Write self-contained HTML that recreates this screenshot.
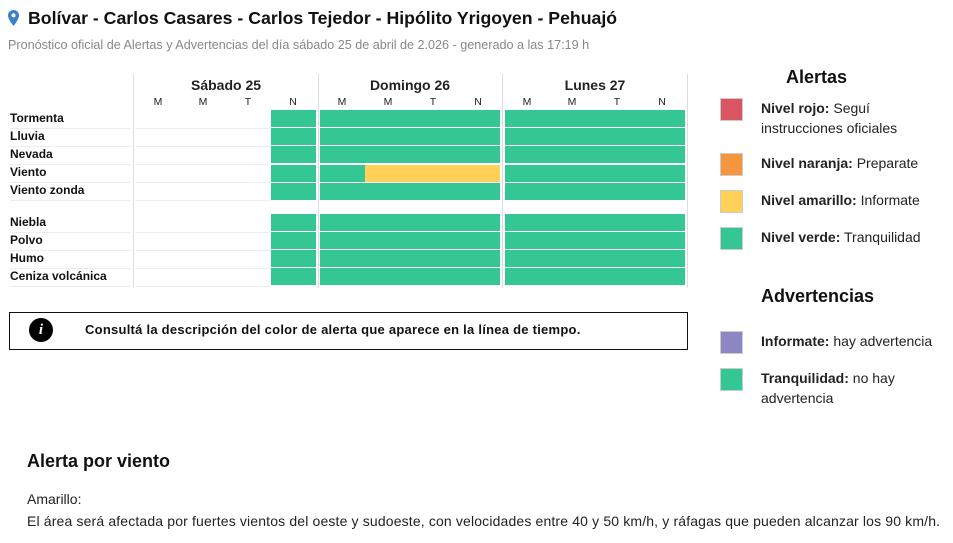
<!DOCTYPE html><html><head><meta charset="utf-8"><style>
body{margin:0;width:953px;height:543px;background:#fff;font-family:"Liberation Sans",sans-serif;color:#111;position:relative;overflow:hidden}
.a{position:absolute;white-space:nowrap}
.g{position:absolute;background:#34c794}
.y{position:absolute;background:#ffd158}
.l{position:absolute;background:#ececec;height:1px}
.lb{position:absolute;left:10px;font-size:12px;font-weight:bold;line-height:17px}
.h{position:absolute;font-size:10.5px;width:20px;text-align:center;top:96px;color:#222}
.d{position:absolute;font-size:14px;font-weight:bold;top:77px;text-align:center;width:180px;color:#222}
.v{position:absolute;width:1px;background:#ddd;top:74px;height:214px}
.sw{position:absolute;left:720px;width:21px;height:21px;border:1px solid #ccc}
.lt{position:absolute;left:761px;font-size:14px;line-height:20px;color:#222}
</style></head><body>
<svg class="a" style="left:8px;top:10px" width="11" height="16" viewBox="0 0 11 16"><path d="M5.5 0C2.5 0 0 2.4 0 5.4 0 9.4 5.5 16 5.5 16S11 9.4 11 5.4C11 2.4 8.5 0 5.5 0z" fill="#3b82c4"/><circle cx="5.5" cy="5.4" r="2" fill="#fff"/></svg>
<div class="a" style="left:28px;top:8px;font-size:17.7px;font-weight:bold">Bolívar - Carlos Casares - Carlos Tejedor - Hipólito Yrigoyen - Pehuajó</div>
<div class="a" style="left:8px;top:38px;font-size:12.6px;color:#888">Pronóstico oficial de Alertas y Advertencias del día sábado 25 de abril de 2.026 - generado a las 17:19 h</div>

<div class="v" style="left:133px"></div><div class="v" style="left:318px"></div><div class="v" style="left:502px"></div><div class="v" style="left:687px"></div>
<div class="d" style="left:136px">Sábado 25</div><div class="d" style="left:320px">Domingo 26</div><div class="d" style="left:505px">Lunes 27</div>
<div class="h" style="left:148px">M</div><div class="h" style="left:193px">M</div><div class="h" style="left:238px">T</div><div class="h" style="left:283px">N</div>
<div class="h" style="left:332px">M</div><div class="h" style="left:378px">M</div><div class="h" style="left:423px">T</div><div class="h" style="left:468px">N</div>
<div class="h" style="left:517px">M</div><div class="h" style="left:562px">M</div><div class="h" style="left:607px">T</div><div class="h" style="left:652px">N</div>

<div class="lb" style="top:110px">Tormenta</div><div class="lb" style="top:128px">Lluvia</div><div class="lb" style="top:146px">Nevada</div><div class="lb" style="top:164px">Viento</div><div class="lb" style="top:182px">Viento zonda</div>
<div class="lb" style="top:214px">Niebla</div><div class="lb" style="top:232px">Polvo</div><div class="lb" style="top:250px">Humo</div><div class="lb" style="top:268px">Ceniza volcánica</div>

<div class="l" style="left:10px;width:121px;top:127.5px"></div><div class="l" style="left:136px;width:133px;top:127.5px"></div>
<div class="l" style="left:10px;width:121px;top:145.5px"></div><div class="l" style="left:136px;width:133px;top:145.5px"></div>
<div class="l" style="left:10px;width:121px;top:163.5px"></div><div class="l" style="left:136px;width:133px;top:163.5px"></div>
<div class="l" style="left:10px;width:121px;top:181.5px"></div><div class="l" style="left:136px;width:133px;top:181.5px"></div>
<div class="l" style="left:10px;width:121px;top:199.5px"></div><div class="l" style="left:136px;width:133px;top:199.5px"></div>
<div class="l" style="left:10px;width:121px;top:231.5px"></div><div class="l" style="left:136px;width:133px;top:231.5px"></div>
<div class="l" style="left:10px;width:121px;top:249.5px"></div><div class="l" style="left:136px;width:133px;top:249.5px"></div>
<div class="l" style="left:10px;width:121px;top:267.5px"></div><div class="l" style="left:136px;width:133px;top:267.5px"></div>
<div class="l" style="left:10px;width:121px;top:285.5px"></div><div class="l" style="left:136px;width:133px;top:285.5px"></div>

<div class="g" style="left:271px;width:45px;top:110px;height:17px"></div><div class="g" style="left:320px;width:180px;top:110px;height:17px"></div><div class="g" style="left:505px;width:180px;top:110px;height:17px"></div>
<div class="g" style="left:271px;width:45px;top:128px;height:17px"></div><div class="g" style="left:320px;width:180px;top:128px;height:17px"></div><div class="g" style="left:505px;width:180px;top:128px;height:17px"></div>
<div class="g" style="left:271px;width:45px;top:146px;height:17px"></div><div class="g" style="left:320px;width:180px;top:146px;height:17px"></div><div class="g" style="left:505px;width:180px;top:146px;height:17px"></div>
<div class="g" style="left:271px;width:45px;top:165px;height:17px"></div><div class="g" style="left:320px;width:45px;top:165px;height:17px"></div><div class="y" style="left:365px;width:135px;top:165px;height:17px"></div><div class="g" style="left:505px;width:180px;top:165px;height:17px"></div>
<div class="g" style="left:271px;width:45px;top:183px;height:17px"></div><div class="g" style="left:320px;width:180px;top:183px;height:17px"></div><div class="g" style="left:505px;width:180px;top:183px;height:17px"></div>
<div class="g" style="left:271px;width:45px;top:214px;height:17px"></div><div class="g" style="left:320px;width:180px;top:214px;height:17px"></div><div class="g" style="left:505px;width:180px;top:214px;height:17px"></div>
<div class="g" style="left:271px;width:45px;top:232px;height:17px"></div><div class="g" style="left:320px;width:180px;top:232px;height:17px"></div><div class="g" style="left:505px;width:180px;top:232px;height:17px"></div>
<div class="g" style="left:271px;width:45px;top:250px;height:17px"></div><div class="g" style="left:320px;width:180px;top:250px;height:17px"></div><div class="g" style="left:505px;width:180px;top:250px;height:17px"></div>
<div class="g" style="left:271px;width:45px;top:268px;height:17px"></div><div class="g" style="left:320px;width:180px;top:268px;height:17px"></div><div class="g" style="left:505px;width:180px;top:268px;height:17px"></div>

<div class="a" style="left:9px;top:312px;width:677px;height:36px;border:1px solid #111"></div>
<div class="a" style="left:29px;top:318px;width:24px;height:24px;border-radius:50%;background:#000;color:#fff;font:italic bold 15px 'Liberation Serif',serif;text-align:center;line-height:24px">i</div>
<div class="a" style="left:85px;top:322px;font-size:13px;font-weight:bold;letter-spacing:0.25px">Consultá la descripción del color de alerta que aparece en la línea de tiempo.</div>

<div class="a" style="left:786px;top:67px;font-size:18px;font-weight:bold">Alertas</div>
<div class="sw" style="top:98px;background:#da5562"></div><div class="lt" style="top:98px"><b>Nivel rojo:</b> Seguí<br>instrucciones oficiales</div>
<div class="sw" style="top:153px;background:#f5963e"></div><div class="lt" style="top:153px"><b>Nivel naranja:</b> Preparate</div>
<div class="sw" style="top:190px;background:#ffd158"></div><div class="lt" style="top:190px"><b>Nivel amarillo:</b> Informate</div>
<div class="sw" style="top:227px;background:#34c794"></div><div class="lt" style="top:227px"><b>Nivel verde:</b> Tranquilidad</div>
<div class="a" style="left:761px;top:286px;font-size:18px;font-weight:bold">Advertencias</div>
<div class="sw" style="top:331px;background:#8c87c3"></div><div class="lt" style="top:331px"><b>Informate:</b> hay advertencia</div>
<div class="sw" style="top:368px;background:#34c794"></div><div class="lt" style="top:368px"><b>Tranquilidad:</b> no hay<br>advertencia</div>

<div class="a" style="left:27px;top:451px;font-size:18px;font-weight:bold">Alerta por viento</div>
<div class="a" style="left:27px;top:491px;font-size:14px;color:#222">Amarillo:</div>
<div class="a" style="left:27px;top:513px;font-size:14px;letter-spacing:0.15px;color:#222">El área será afectada por fuertes vientos del oeste y sudoeste, con velocidades entre 40 y 50 km/h, y ráfagas que pueden alcanzar los 90 km/h.</div>
</body></html>
